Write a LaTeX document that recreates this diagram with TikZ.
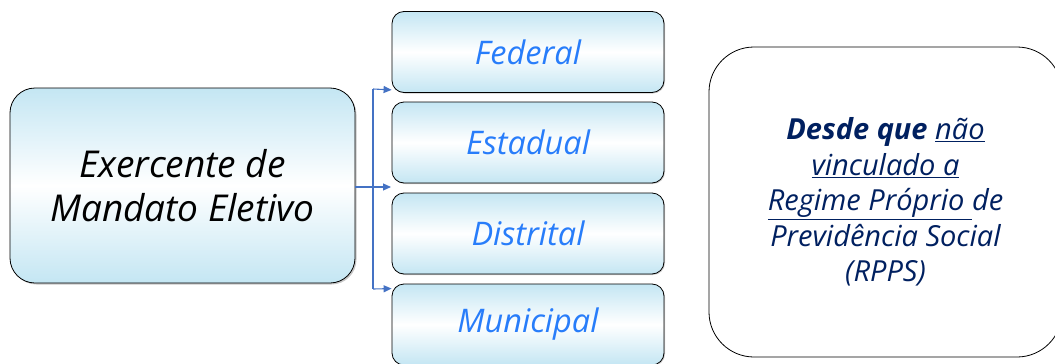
\documentclass[tikz,border=0pt]{standalone}
\usepackage{fontspec}
\setmainfont{Open Sans}
\usetikzlibrary{positioning}
\usetikzlibrary{arrows.meta,shadows}
\definecolor{boxblue}{RGB}{196,230,243}
\definecolor{leveltext}{RGB}{40,125,250}
\definecolor{notetext}{RGB}{0,32,96}
\definecolor{linkblue}{RGB}{68,114,196}
\tikzset{
  mainbox/.style={draw=black,line width=0.8pt,rounded corners=25pt,top color=boxblue,bottom color=boxblue,middle color=white,
    drop shadow={shadow xshift=1.5pt,shadow yshift=-1.5pt,opacity=0.45},align=center},
  levelbox/.style={draw=black,line width=0.8pt,rounded corners=12pt,top color=boxblue,bottom color=boxblue,middle color=white,
    drop shadow={shadow xshift=1pt,shadow yshift=-1pt,opacity=0.4},minimum width=272pt,minimum height=81pt,
    font=\fontsize{32.5}{38}\selectfont\itshape,text=leveltext},
  notebox/.style={draw=black,line width=0.8pt,rounded corners=45pt,fill=white,align=center},
  link/.style={linkblue,line width=1.1pt},
  linkarrow/.style={link,-{Triangle[length=8pt,width=7pt]}},
}
\begin{document}
\begin{tikzpicture}[x=1pt,y=-1pt]
\useasboundingbox (0,0) rectangle (1055,364);
\clip (0,0) rectangle (1055,364);
% left box
\node[mainbox,minimum width=345pt,minimum height=195pt,font=\fontsize{37}{44}\selectfont\itshape] (mandato) at (182.5,185.5) {Exercente de\\Mandato Eletivo};
% levels
\node[levelbox] (federal) at (528,52) {Federal};
\node[levelbox] (estadual) at (528,142.5) {Estadual};
\node[levelbox] (distrital) at (528,233.5) {Distrital};
\node[levelbox] (municipal) at (528,324.5) {Municipal};
% note
\node[notebox,minimum width=353pt,minimum height=310pt,text=notetext,font=\fontsize{29}{35.5}\selectfont\itshape] (nota) at (885.5,202)
  {\textbf{Desde que} \underline{não}\\\underline{vinculado a}\\\underline{Regime Próprio }de\\Previdência Social\\(RPPS)};
% connectors
\coordinate (split) at (373,187);
\coordinate (splittop) at (373,89);
\coordinate (splitbot) at (373,289);
\coordinate (gap) at (391,187);
\draw[link] (mandato.east |- split) -- (split);
\draw[link] (splittop) -- (splitbot);
\draw[linkarrow] (splittop) -- ([yshift=3pt]federal.south west);
\draw[linkarrow] (split) -- (gap);
\draw[linkarrow] (splitbot) -- ([yshift=-5pt]municipal.north west);
\end{tikzpicture}
\end{document}
